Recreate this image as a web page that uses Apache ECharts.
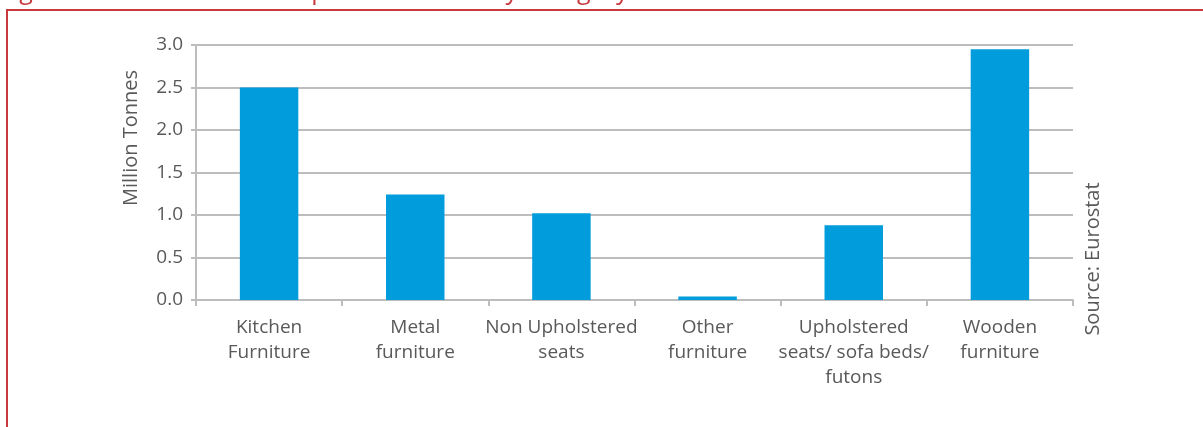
<!DOCTYPE html>
<html>
<head>
<meta charset="utf-8">
<style>
  html, body { margin: 0; padding: 0; background: #ffffff; }
  #chart { width: 1203px; height: 427px; }
</style>
<script src="https://cdn.jsdelivr.net/npm/echarts@6/dist/echarts.min.js"></script>
</head>
<body>
<div id="chart"></div>
<script>
// Furniture consumption in the EU, million tonnes per category
const categories = [
  'Kitchen\nFurniture',
  'Metal\nfurniture',
  'Non Upholstered\nseats',
  'Other\nfurniture',
  'Upholstered\nseats/ sofa beds/\nfutons',
  'Wooden\nfurniture'
];
const consumption = [2.50, 1.24, 1.02, 0.04, 0.88, 2.95];
const yTicks = { min: 0, max: 3, interval: 0.5 };

const titleText = 'Figure 6 Furniture Consumption in the EU by Category:';
const yAxisTitle = 'Million Tonnes';
const sourceText = 'Source: Eurostat';

const textGrey = '#595959';
const lineGrey = '#bdbdbd';
const barBlue = '#019cdc';
const frameRed = '#c9393b';
const font = '"Open Sans", "DejaVu Sans", sans-serif';

const chart = echarts.init(document.getElementById('chart'), null, { renderer: 'canvas' });

chart.setOption({
  animation: false,
  backgroundColor: '#ffffff',
  grid: { left: 196, right: 130, top: 45, bottom: 127, containLabel: false },
  xAxis: {
    type: 'category',
    data: categories,
    boundaryGap: true,
    axisLine: { show: true, lineStyle: { color: lineGrey, width: 2 } },
    axisTick: { show: true, length: 6, lineStyle: { color: lineGrey, width: 2 } },
    axisLabel: {
      interval: 0,
      margin: 15,
      color: textGrey,
      fontFamily: font,
      fontSize: 19,
      lineHeight: 25,
      align: 'center'
    },
    splitLine: { show: false }
  },
  yAxis: {
    type: 'value',
    min: yTicks.min,
    max: yTicks.max,
    interval: yTicks.interval,
    axisLine: { show: true, lineStyle: { color: lineGrey, width: 2 } },
    axisTick: { show: true, length: 5, lineStyle: { color: lineGrey, width: 2 } },
    axisLabel: {
      margin: 13,
      color: textGrey,
      fontFamily: font,
      fontSize: 19,
      formatter: v => v.toFixed(1)
    },
    splitLine: { show: true, lineStyle: { color: lineGrey, width: 2 } }
  },
  series: [{
    type: 'bar',
    data: consumption,
    barWidth: '40%',
    itemStyle: { color: barBlue }
  }],
  graphic: [
    {
      type: 'rect',
      silent: true,
      shape: { x: 7, y: 10, width: 1300, height: 500 },
      style: { fill: 'none', stroke: frameRed, lineWidth: 2 }
    },
    {
      type: 'text',
      silent: true,
      left: 0,
      top: -21,
      style: {
        text: titleText,
        fill: frameRed,
        font: '25px ' + font
      }
    },
    {
      type: 'text',
      silent: true,
      x: 131,
      y: 138,
      rotation: Math.PI / 2,
      style: {
        text: yAxisTitle,
        fill: textGrey,
        font: '20px ' + font,
        align: 'center',
        verticalAlign: 'middle'
      }
    },
    {
      type: 'text',
      silent: true,
      x: 1093,
      y: 259,
      rotation: Math.PI / 2,
      style: {
        text: sourceText,
        fill: textGrey,
        font: '20px ' + font,
        align: 'center',
        verticalAlign: 'middle'
      }
    }
  ]
});
</script>
</body>
</html>
